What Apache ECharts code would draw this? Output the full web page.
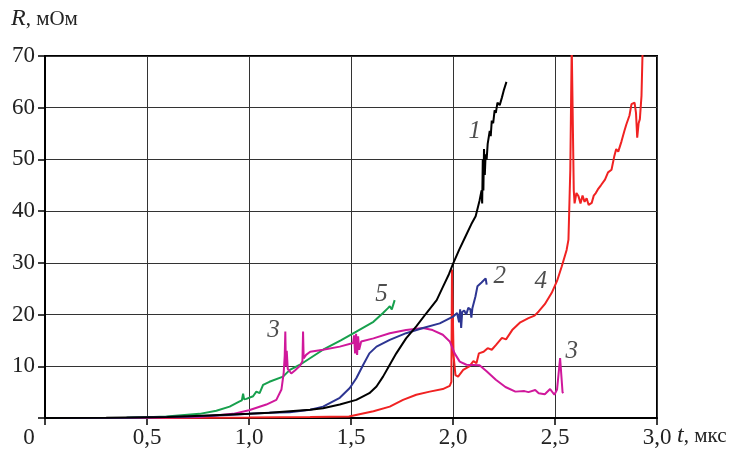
<!DOCTYPE html>
<html>
<head>
    <meta charset="UTF-8">
    <title>R(t)</title>
    <script src="https://cdn.jsdelivr.net/npm/echarts@6/dist/echarts.min.js"></script>
    <style>
        body { margin: 0; background: #fff; }
    </style>
</head>
<body>
<div id="chart" style="width:751px; height:451px;"></div>
<script>
    // t, мкс / R, мОм
    var xTicks = [0, 0.5, 1.0, 1.5, 2.0, 2.5, 3.0];
    var yTicks = [0, 10, 20, 30, 40, 50, 60, 70];

    var curve1 = [[0,0],[0.3,0.05],[0.6,0.2],[0.8,0.5],[1.0,0.8],[1.1,1.0],[1.2,1.3],[1.3,1.6],[1.363,1.9],[1.445,2.6],
        [1.526,3.5],[1.59,4.8],[1.625,6.1],[1.657,8],[1.69,10.3],[1.722,12.5],[1.77,15.4],[1.82,17.7],[1.87,20.3],
        [1.92,22.8],[1.95,25.3],[1.98,27.8],[2.0,29.8],[2.03,32.5],[2.06,35],[2.09,37.5],[2.111,39],[2.13,42],
        [2.14,44],[2.143,41.5],[2.146,50],[2.149,44],[2.152,52],[2.156,47],[2.16,51],[2.165,50],[2.17,53],
        [2.18,55.5],[2.185,54.5],[2.19,57.5],[2.197,57],[2.204,59.5],[2.21,59],[2.218,61],[2.229,60.5],
        [2.24,62],[2.25,63.5],[2.262,65]];

    var curve2 = [[0,0],[0.4,0.05],[0.7,0.3],[0.9,0.6],[1.0,0.8],[1.1,1.0],[1.2,1.1],[1.3,1.6],[1.363,2.2],
        [1.445,3.9],[1.494,5.8],[1.526,7.7],[1.56,10.3],[1.59,12.5],[1.625,13.8],[1.69,15.1],[1.77,16.4],
        [1.853,17.4],[1.935,18.3],[2.0,19.6],[2.02,20.3],[2.03,18.5],[2.035,21],[2.04,17.4],[2.045,20.5],
        [2.055,20.8],[2.065,20],[2.075,21.3],[2.085,21],[2.09,19.4],[2.095,21.2],[2.11,23.5],[2.12,25.5],
        [2.14,26.2],[2.16,27],[2.165,25.8]];

    var curve3 = [[0,0],[0.5,0.05],[0.758,0.2],[0.922,0.8],[1.0,1.5],[1.085,2.6],[1.134,3.5],[1.159,5.5],
        [1.17,8.7],[1.175,12],[1.178,16.7],[1.181,10],[1.185,13],[1.19,9.5],[1.2,9],[1.207,8.6],[1.225,9.2],
        [1.25,10.1],[1.262,11],[1.265,16.7],[1.268,11.5],[1.28,12.2],[1.3,12.8],[1.363,13.2],[1.445,13.8],
        [1.51,14.5],[1.515,16],[1.52,12.5],[1.525,16.3],[1.53,12.2],[1.535,15.8],[1.54,13.2],[1.55,14.8],
        [1.61,15.4],[1.69,16.4],[1.77,17],[1.853,17.4],[1.9,17],[1.95,16.1],[1.984,14.8],[2.008,12.5],
        [2.033,10.9],[2.066,10.3],[2.13,10.2],[2.166,9],[2.21,7.4],[2.257,6],[2.306,5.1],[2.35,5.2],
        [2.37,5],[2.403,5.4],[2.42,4.8],[2.45,4.6],[2.476,5.6],[2.497,4.5],[2.51,5.5],[2.525,11.6],
        [2.537,5],[2.54,4.8]];

    var curve4 = [[0,0],[0.6,0.02],[1.0,0.1],[1.3,0.2],[1.49,0.3],[1.61,1.3],[1.69,2.2],[1.755,3.5],
        [1.82,4.5],[1.886,5.1],[1.95,5.6],[1.984,6.2],[1.992,7],[1.995,28.7],[2.003,12],[2.012,8.3],
        [2.025,8],[2.05,9.3],[2.08,10],[2.1,11],[2.115,10.6],[2.127,12.5],[2.15,12.8],[2.17,13.5],
        [2.19,13.2],[2.21,14.1],[2.24,15.5],[2.26,15.2],[2.29,17],[2.33,18.5],[2.37,19.3],[2.4,19.8],
        [2.42,20.6],[2.45,22],[2.484,24.2],[2.51,26.5],[2.533,29.3],[2.557,32.5],[2.566,34.5],
        [2.575,48],[2.582,72],[2.588,72],[2.592,44],[2.596,41.5],[2.605,43.5],[2.615,42.9],[2.625,41.5],
        [2.635,43],[2.645,41.8],[2.655,42.5],[2.665,41.2],[2.68,41.6],[2.69,43],[2.7,43.5],[2.71,44.2],
        [2.725,45],[2.745,46.1],[2.76,47.5],[2.777,48],[2.79,50.5],[2.8,52],[2.81,51.5],[2.826,53.5],
        [2.84,55.5],[2.85,56.8],[2.865,58.5],[2.875,60.7],[2.89,61],[2.897,59],[2.903,54.2],[2.91,57],
        [2.916,57.8],[2.924,62.3],[2.93,72]];

    var curve5 = [[0,0],[0.4,0.05],[0.5,0.15],[0.595,0.3],[0.758,0.8],[0.84,1.4],[0.905,2.2],[0.954,3.2],
        [0.965,3.4],[0.971,4.7],[0.976,3.6],[0.987,3.7],[1.02,4.2],[1.036,5.1],[1.052,4.8],[1.069,6.4],
        [1.1,7],[1.167,8],[1.2,9.3],[1.25,10.3],[1.363,13.2],[1.45,15],[1.526,16.7],[1.61,18.6],
        [1.657,20.3],[1.68,21.2],[1.69,21.6],[1.7,21],[1.714,22.8]];

    // curve numbers written next to the lines: [text, t, R]
    var curveNames = [['1', 2.107, 55.5], ['2', 2.229, 27.3], ['4', 2.43, 26.5],
        ['3', 2.582, 12.8], ['3', 1.12, 17], ['5', 1.65, 23.8]];

    var serif = 'Liberation Serif';
    var chart = echarts.init(document.getElementById('chart'), null, {renderer: 'canvas'});

    function lineSeries(data, color) {
        return {
            type: 'line',
            data: data,
            showSymbol: false,
            clip: true,
            lineStyle: {color: color, width: 2},
            itemStyle: {color: color},
            z: 3
        };
    }

    var option = {
        animation: false,
        backgroundColor: '#fff',
        grid: {left: 45, right: 94, top: 56, bottom: 33, show: true, borderColor: '#000', borderWidth: 2},
        xAxis: {
            type: 'value',
            min: xTicks[0],
            max: xTicks[xTicks.length - 1],
            interval: 0.5,
            axisLine: {show: true, lineStyle: {color: '#000', width: 2}},
            axisTick: {show: true, length: 7, lineStyle: {color: '#000', width: 1.5}},
            splitLine: {show: true, lineStyle: {color: '#333', width: 1}},
            axisLabel: {
                fontFamily: serif, fontSize: 23, color: '#222', margin: 8,
                formatter: function (v) {
                    return v === 0 ? '{z|0}' : v.toFixed(1).replace('.', ',');
                },
                rich: {z: {fontFamily: serif, fontSize: 23, color: '#222', padding: [0, 32, 0, 0]}}
            }
        },
        yAxis: {
            type: 'value',
            min: yTicks[0],
            max: yTicks[yTicks.length - 1],
            interval: 10,
            axisLine: {show: true, lineStyle: {color: '#000', width: 2}},
            axisTick: {show: true, length: 7, lineStyle: {color: '#000', width: 1.5}},
            splitLine: {show: true, lineStyle: {color: '#333', width: 1}},
            axisLabel: {
                fontFamily: serif, fontSize: 23, color: '#222', margin: 10,
                formatter: function (v) { return v === 0 ? '' : String(v); }
            }
        },
        graphic: [
            {
                type: 'text', left: 11, top: 7,
                style: {
                    text: '{i|R}, мОм', fontFamily: serif, fontSize: 21, fill: '#222',
                    rich: {i: {fontFamily: serif, fontStyle: 'italic', fontSize: 24, fill: '#222'}}
                }
            },
            {
                type: 'text', left: 677, top: 424,
                style: {
                    text: '{i|t}, мкс', fontFamily: serif, fontSize: 21, fill: '#222',
                    rich: {i: {fontFamily: serif, fontStyle: 'italic', fontSize: 24, fill: '#222'}}
                }
            }
        ],
        series: [
            lineSeries(curve5, '#17a04d'),
            lineSeries(curve4, '#f02222'),
            lineSeries(curve3, '#d0189b'),
            lineSeries(curve2, '#2d3592'),
            lineSeries(curve1, '#000000'),
            {
                type: 'scatter',
                data: curveNames.map(function (c) {
                    return {value: [c[1], c[2]], label: {formatter: c[0]}};
                }),
                symbolSize: 1,
                itemStyle: {color: 'rgba(0,0,0,0)'},
                label: {
                    show: true, position: 'inside',
                    fontFamily: serif, fontStyle: 'italic', fontSize: 25, color: '#222'
                },
                z: 5
            }
        ]
    };
    chart.setOption(option);
</script>
</body>
</html>
